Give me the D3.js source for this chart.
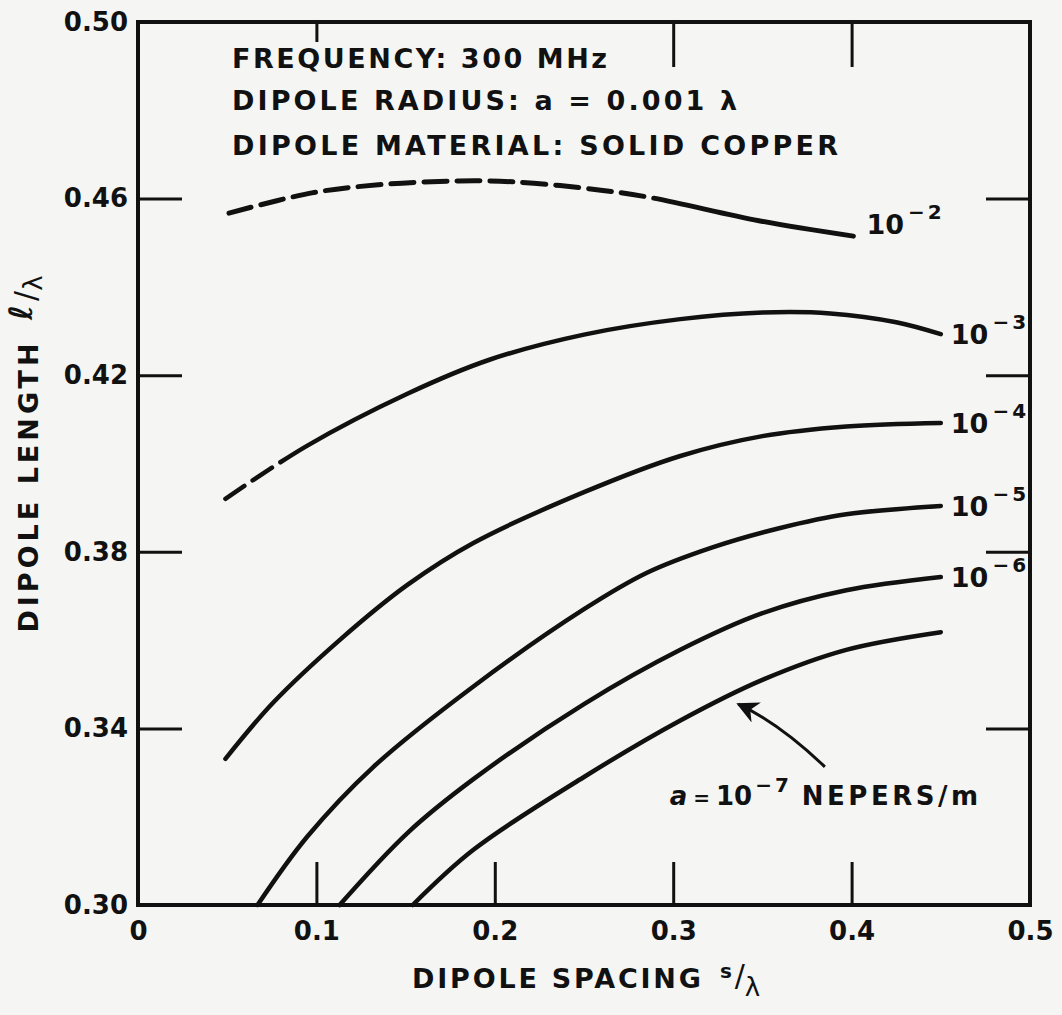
<!DOCTYPE html>
<html>
<head>
<meta charset="utf-8">
<script src="https://cdn.jsdelivr.net/npm/d3@7"></script>
<style>
  html, body { margin: 0; padding: 0; background: #f5f5f3; }
  svg { display: block; }
  text { font-family: "DejaVu Sans", "Liberation Sans", sans-serif; font-weight: bold; fill: #111; }
</style>
</head>
<body>
<svg id="chart" width="1062" height="1015"></svg>
<script>
// Dipole spacing s/λ and dipole length ℓ/λ for each attenuation constant a (nepers/m)
const spacingE2 = [0.051, 0.0975, 0.137, 0.180, 0.210, 0.247, 0.285, 0.348, 0.401];
const lengthE2  = [0.4567, 0.4613, 0.4632, 0.4640, 0.4638, 0.4625, 0.4604, 0.4550, 0.4515];

const spacingE3 = [0.049, 0.0947, 0.151, 0.197, 0.250, 0.304, 0.350, 0.388, 0.425, 0.450];
const lengthE3  = [0.3920, 0.4040, 0.4158, 0.4235, 0.4292, 0.4327, 0.4342, 0.4340, 0.4320, 0.4293];

const spacingE4 = [0.049, 0.0757, 0.113, 0.151, 0.188, 0.250, 0.304, 0.350, 0.397, 0.450];
const lengthE4  = [0.3331, 0.3458, 0.3600, 0.3725, 0.3820, 0.3935, 0.4017, 0.4062, 0.4084, 0.4092];

const spacingE5 = [0.067, 0.0947, 0.132, 0.188, 0.250, 0.285, 0.322, 0.360, 0.397, 0.450];
const lengthE5  = [0.300, 0.3154, 0.3313, 0.3495, 0.3670, 0.3752, 0.3810, 0.3854, 0.3885, 0.3904];

const spacingE6 = [0.113, 0.151, 0.188, 0.250, 0.304, 0.350, 0.397, 0.450];
const lengthE6  = [0.300, 0.3163, 0.3285, 0.3455, 0.3578, 0.3661, 0.3713, 0.3743];

const spacingE7 = [0.154, 0.188, 0.250, 0.304, 0.350, 0.397, 0.450];
const lengthE7  = [0.300, 0.3125, 0.3290, 0.3418, 0.3510, 0.3578, 0.3618];

// exponent of each curve's attenuation constant, and where its dashed (estimated) part ends
const exponents = ["2", "3", "4", "5", "6", "7"];
const dashedUntil = [0.294, 0.0947, null, null, null, null];

// axis ticks
const xTickValues = [0, 0.1, 0.2, 0.3, 0.4, 0.5];
const yTickValues = [0.30, 0.34, 0.38, 0.42, 0.46, 0.50];

// header notes
const notes = ["FREQUENCY: 300 MHz", "DIPOLE RADIUS: a = 0.001 λ", "DIPOLE MATERIAL: SOLID COPPER"];

(function draw() {
const svg = d3.select("#chart");
const mLeft = 138, mRight = 1030, mTop = 22, mBottom = 905;

const x = d3.scaleLinear().domain([0, 0.5]).range([mLeft, mRight]);
const y = d3.scaleLinear().domain([0.30, 0.50]).range([mBottom, mTop]);

const ink = "#111";

// frame
svg.append("rect")
  .attr("x", mLeft).attr("y", mTop)
  .attr("width", mRight - mLeft).attr("height", mBottom - mTop)
  .attr("fill", "none").attr("stroke", ink).attr("stroke-width", 4);

function styleAxis(g) {
  g.select(".domain").remove();
  g.selectAll(".tick line").attr("stroke", ink).attr("stroke-width", 3);
  g.selectAll(".tick text").attr("fill", ink).style("font-size", "26px")
    .style("font-family", "'DejaVu Sans', sans-serif").style("font-weight", "bold");
}

// bottom axis with labels, ticks pointing inward
svg.append("g").attr("transform", `translate(0,${mBottom})`)
  .call(d3.axisBottom(x).tickValues(xTickValues).tickSizeInner(-43).tickSizeOuter(0)
    .tickPadding(17).tickFormat(d => d === 0 ? "0" : d3.format(".1f")(d)))
  .call(styleAxis)
  .call(g => g.selectAll(".tick").filter(d => d === 0 || d === 0.5).select("line").remove());

// left axis with labels
svg.append("g").attr("transform", `translate(${mLeft},0)`)
  .call(d3.axisLeft(y).tickValues(yTickValues).tickSizeInner(-44).tickSizeOuter(0)
    .tickPadding(10).tickFormat(d3.format(".2f")))
  .call(styleAxis)
  .call(g => g.selectAll(".tick").filter(d => d === 0.30 || d === 0.50).select("line").remove());

// right axis ticks
svg.append("g").attr("transform", `translate(${mRight},0)`)
  .call(d3.axisRight(y).tickValues([0.34, 0.38, 0.42, 0.46]).tickSizeInner(-44).tickSizeOuter(0).tickFormat(""))
  .call(styleAxis);

// top axis ticks (short one under the header)
svg.append("g").attr("transform", `translate(0,${mTop})`)
  .call(d3.axisTop(x).tickValues([0.1]).tickSizeInner(-20).tickSizeOuter(0).tickFormat(""))
  .call(styleAxis);
svg.append("g").attr("transform", `translate(0,${mTop})`)
  .call(d3.axisTop(x).tickValues([0.3, 0.4]).tickSizeInner(-45).tickSizeOuter(0).tickFormat(""))
  .call(styleAxis);

// axis titles
const yt = svg.append("text")
  .attr("transform", "translate(38,452) rotate(-90)")
  .attr("text-anchor", "middle")
  .style("font-size", "27px").style("letter-spacing", "4px");
yt.append("tspan").text("DIPOLE LENGTH ");
yt.append("tspan").attr("dx", 6).attr("dy", -6).style("font-size", "32px").style("font-style", "italic").text("ℓ");
yt.append("tspan").attr("dy", 4).style("font-size", "30px").style("font-weight", "normal").style("letter-spacing", "0px").text("/");
yt.append("tspan").attr("dy", 6).style("font-size", "26px").style("font-weight", "normal").text("λ");

const xt = svg.append("text")
  .attr("x", 412).attr("y", 988)
  .style("font-size", "27px").style("letter-spacing", "2.8px");
xt.append("tspan").text("DIPOLE SPACING ");
xt.append("tspan").attr("dx", 4).attr("dy", -10).style("font-size", "20px").text("s");
xt.append("tspan").attr("dy", 8).style("font-size", "30px").style("font-weight", "normal").style("letter-spacing", "0px").text("/");
xt.append("tspan").attr("dy", 10).style("font-size", "26px").style("font-weight", "normal").text("λ");

// header notes
const noteBaselines = [68, 110, 155];
const noteWidths = [375, 505, 606];
notes.forEach((t, i) => {
  svg.append("text")
    .attr("x", 232).attr("y", noteBaselines[i])
    .attr("textLength", noteWidths[i]).attr("lengthAdjust", "spacing")
    .style("font-size", "27px")
    .text(t);
});

// curves
const series = [
  [spacingE2, lengthE2], [spacingE3, lengthE3], [spacingE4, lengthE4],
  [spacingE5, lengthE5], [spacingE6, lengthE6], [spacingE7, lengthE7]
];

const line = d3.line()
  .x(d => x(d[0])).y(d => y(d[1]))
  .curve(d3.curveCatmullRom.alpha(0.5));

const dash = 23, gap = 10;

series.forEach(([xs, ys], i) => {
  const pts = xs.map((v, k) => [v, ys[k]]);
  const path = svg.append("path")
    .datum(pts)
    .attr("d", line)
    .attr("fill", "none")
    .attr("stroke", ink)
    .attr("stroke-width", i === 0 ? 5 : 4.5)
    .attr("stroke-linecap", "round");

  // dashed leading section: find the path length where the dashed part stops
  if (dashedUntil[i] !== null) {
    const node = path.node();
    const total = node.getTotalLength();
    const target = x(dashedUntil[i]);
    let lo = 0, hi = total;
    for (let it = 0; it < 40; it++) {
      const mid = (lo + hi) / 2;
      if (node.getPointAtLength(mid).x < target) lo = mid; else hi = mid;
    }
    const arr = [];
    let acc = 0;
    while (acc + dash + gap <= lo) { arr.push(dash, gap); acc += dash + gap; }
    arr.push(total, 0);
    path.attr("stroke-dasharray", arr.join(" "));
  }

  // exponent label at the right end of the curve
  const endX = x(xs[xs.length - 1]);
  const endY = y(ys[ys.length - 1]);
  const raise = i === 0 ? -12 : 0;
  const lab = svg.append("text")
    .attr("x", endX + (i === 0 ? 13 : 10))
    .attr("y", endY + 10 + raise)
    .style("font-size", "27px");
  if (i < 5) {
    lab.append("tspan").text("10");
    lab.append("tspan").attr("dx", 4).attr("dy", -15)
      .style("font-size", "20px").style("letter-spacing", "3px")
      .text("−" + exponents[i]);
  }
});

// annotation for the lowest curve: arrow and text
const arrowTail = [0.385, 0.3313];
const arrowTip = [0.3365, 0.3455];
svg.append("defs").append("marker")
  .attr("id", "head").attr("viewBox", "0 0 10 10")
  .attr("refX", 9).attr("refY", 5)
  .attr("markerWidth", 22).attr("markerHeight", 22)
  .attr("markerUnits", "userSpaceOnUse")
  .attr("orient", "auto")
  .append("path").attr("d", "M0,0 L10,5 L0,10 L3,5 Z").attr("fill", ink);

const tx = x(arrowTail[0]), ty = y(arrowTail[1]);
const hx = x(arrowTip[0]), hy = y(arrowTip[1]);
svg.append("path")
  .attr("d", `M${tx},${ty} Q${(tx + hx) / 2 - 2},${(ty + hy) / 2 - 12} ${hx},${hy}`)
  .attr("fill", "none").attr("stroke", ink).attr("stroke-width", 3)
  .attr("marker-end", "url(#head)");

const annot = svg.append("text")
  .attr("x", x(0.298)).attr("y", y(0.3227))
  .style("font-size", "26px");
annot.append("tspan").style("font-style", "italic").text("a");
annot.append("tspan").attr("dx", 6).style("font-size", "20px").text("=");
annot.append("tspan").attr("dx", 6).text("10");
annot.append("tspan").attr("dx", 3).attr("dy", -13).style("font-size", "20px").style("letter-spacing", "3px").text("−" + exponents[5]);
annot.append("tspan").attr("dx", 10).attr("dy", 13).style("letter-spacing", "3.5px").text("NEPERS/m");
})();
</script>
</body>
</html>
